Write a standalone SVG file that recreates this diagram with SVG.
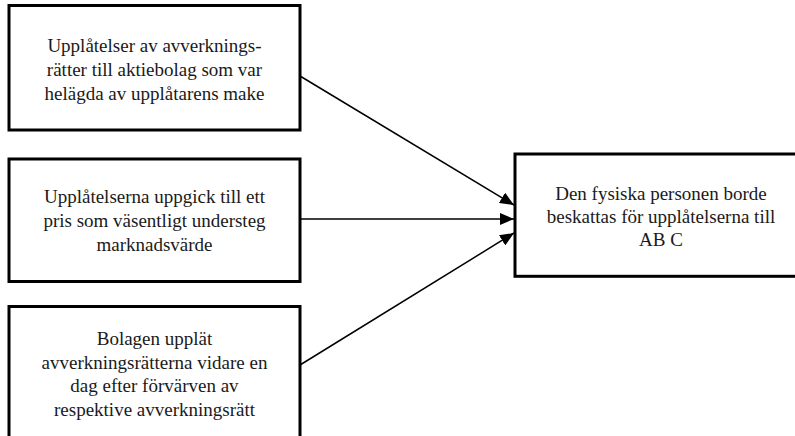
<svg xmlns="http://www.w3.org/2000/svg" width="795" height="436" viewBox="0 0 795 436">
<style>
.box{fill:#fff;stroke:#000;stroke-width:3}
.t{font-family:"Times New Roman","Liberation Serif",Tinos,"DejaVu Serif",serif;font-size:19px;fill:#1a1a1a;text-anchor:middle}
.c{stroke:#000;stroke-width:1.5;fill:none;marker-end:url(#ah)}
</style>
<defs>
<marker id="ah" markerUnits="userSpaceOnUse" markerWidth="14" markerHeight="12" refX="14" refY="6" orient="auto">
<path d="M0,0 L14,6 L0,12 Z" fill="#000"/>
</marker>
</defs>
<rect width="795" height="436" fill="#fff"/>
<g id="n1">
<rect class="box" x="9" y="5.5" width="291" height="124.5"/>
<text class="t" x="154.5" y="52">Upplåtelser av avverknings-</text>
<text class="t" x="154.5" y="76">rätter till aktiebolag som var</text>
<text class="t" x="154.5" y="100">helägda av upplåtarens make</text>
</g>
<g id="n2">
<rect class="box" x="9" y="159" width="291" height="122.5"/>
<text class="t" x="154.5" y="203">Upplåtelserna uppgick till ett</text>
<text class="t" x="154.5" y="227">pris som väsentligt understeg</text>
<text class="t" x="154.5" y="251">marknadsvärde</text>
</g>
<g id="n3">
<rect class="box" x="9" y="306.5" width="291" height="140"/>
<text class="t" x="154.5" y="345">Bolagen upplät</text>
<text class="t" x="154.5" y="368.5">avverkningsrätterna vidare en</text>
<text class="t" x="154.5" y="392">dag efter förvärven av</text>
<text class="t" x="154.5" y="415.5">respektive avverkningsrätt</text>
</g>
<g id="n4">
<rect class="box" x="515" y="154" width="300" height="122.3"/>
<text class="t" x="661" y="200">Den fysiska personen borde</text>
<text class="t" x="661" y="223">beskattas för upplåtelserna till</text>
<text class="t" x="661" y="246">AB C</text>
</g>
<g id="connectors">
<line class="c" x1="300" y1="76" x2="514" y2="205"/>
<line class="c" x1="300" y1="219" x2="514" y2="219"/>
<line class="c" x1="300" y1="365" x2="514" y2="233"/>
</g>
</svg>
